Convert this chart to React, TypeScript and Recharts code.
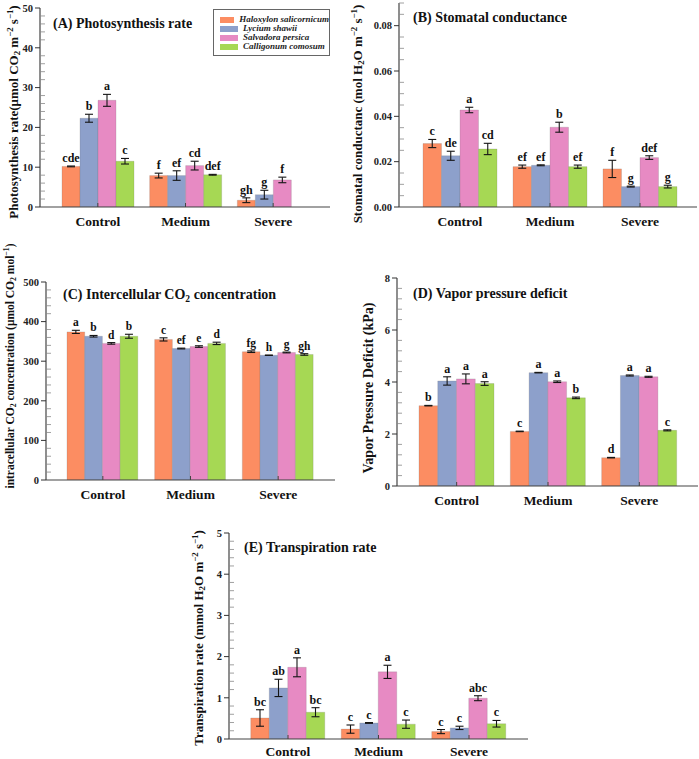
import React from 'react';
import {
  BarChart,
  Bar,
  XAxis,
  YAxis,
  ErrorBar,
  LabelList,
  Legend,
  Customized,
} from 'recharts';

const SERIF = '"Liberation Serif", "Times New Roman", Times, serif';

// Treatments on the x axis and the four species drawn in every panel
const categories = ['Control', 'Medium', 'Severe'];
const species = ['Haloxylon salicornicum', 'Lycium shawii', 'Salvadora persica', 'Calligonum comosum'];
const speciesColors = ['#FC8D62', '#8DA0CB', '#E78AC3', '#A6D854'];

// (A) Photosynthesis rate — rows: treatment, columns: species
const photoMean = [
  [10.2, 22.3, 26.8, 11.5],
  [7.9, 7.9, 10.4, 8.1],
  [1.7, 3.1, 6.8, 0],
];
const photoErr = [
  [0.1, 1.0, 1.5, 0.7],
  [0.6, 1.2, 1.1, 0.1],
  [0.6, 1.1, 0.7, 0],
];
const photoLetters = [
  ['cde', 'b', 'a', 'c'],
  ['f', 'ef', 'cd', 'def'],
  ['gh', 'g', 'f', 'h'],
];
const photoTicks = [0, 10, 20, 30, 40, 50];

// (B) Stomatal conductance
const condMean = [
  [0.028, 0.0226, 0.0428, 0.0256],
  [0.0178, 0.0184, 0.0352, 0.0178],
  [0.0168, 0.009, 0.0218, 0.009],
];
const condErr = [
  [0.0018, 0.002, 0.0012, 0.0025],
  [0.0007, 0.0002, 0.0022, 0.0007],
  [0.0038, 0.0002, 0.0008, 0.0006],
];
const condLetters = [
  ['c', 'de', 'a', 'cd'],
  ['ef', 'ef', 'b', 'ef'],
  ['f', 'g', 'def', 'g'],
];
const condTicks = [0, 0.02, 0.04, 0.06, 0.08];

// (C) Intercellular CO2 concentration
const ciMean = [
  [374, 363, 345, 363],
  [355, 332, 337, 345],
  [324, 315, 322, 317],
];
const ciErr = [
  [4, 2, 2, 5],
  [4, 1, 2, 3],
  [2, 0.5, 1, 2],
];
const ciLetters = [
  ['a', 'b', 'd', 'b'],
  ['c', 'ef', 'e', 'd'],
  ['fg', 'h', 'g', 'gh'],
];
const ciTicks = [0, 100, 200, 300, 400, 500];

// (D) Vapor pressure deficit
const vpdMean = [
  [3.09, 4.04, 4.12, 3.94],
  [2.1, 4.36, 4.01, 3.39],
  [1.09, 4.25, 4.2, 2.14],
];
const vpdErr = [
  [0.01, 0.16, 0.19, 0.07],
  [0.01, 0.01, 0.03, 0.03],
  [0.01, 0.02, 0.02, 0.02],
];
const vpdLetters = [
  ['b', 'a', 'a', 'a'],
  ['c', 'a', 'a', 'b'],
  ['d', 'a', 'a', 'c'],
];
const vpdTicks = [0, 2, 4, 6, 8];

// (E) Transpiration rate
const transMean = [
  [0.51, 1.24, 1.74, 0.65],
  [0.24, 0.39, 1.63, 0.36],
  [0.18, 0.27, 0.99, 0.37],
];
const transErr = [
  [0.2, 0.21, 0.23, 0.11],
  [0.1, 0.01, 0.16, 0.1],
  [0.05, 0.04, 0.06, 0.08],
];
const transLetters = [
  ['bc', 'ab', 'a', 'bc'],
  ['c', 'c', 'a', 'c'],
  ['c', 'c', 'abc', 'c'],
];
const transTicks = [0, 1, 2, 3, 4, 5];

type Part = [string, '' | 'sub' | 'sup'];

function buildRows(means: number[][], errs: number[][], letters: string[][]) {
  return categories.map((name, ci) => {
    const row: Record<string, any> = { name };
    species.forEach((_, si) => {
      row[`v${si}`] = means[ci][si];
      row[`e${si}`] = errs[ci][si];
      row[`m${si}`] = { t: letters[ci][si], v: means[ci][si], e: errs[ci][si] };
    });
    return row;
  });
}

// axis positions every `step` from 0 to max (minor + major marks)
function tickPositions(max: number, step: number) {
  const out: number[] = [];
  const n = Math.round(max / step);
  for (let i = 0; i <= n; i++) out.push(Math.round(i * step * 1e6) / 1e6);
  return out;
}

function Rich({ parts, size, x, y, rotate, anchor = 'start' }: { parts: Part[]; size: number; x: number; y: number; rotate?: boolean; anchor?: string }) {
  let shift = 0;
  return (
    <text
      x={x}
      y={y}
      textAnchor={anchor}
      fontFamily={SERIF}
      fontWeight="bold"
      fontSize={size}
      fill="#111"
      transform={rotate ? `rotate(-90 ${x} ${y})` : undefined}
    >
      {parts.map(([t, k], i) => {
        const target = k === 'sub' ? size * 0.22 : k === 'sup' ? -size * 0.38 : 0;
        const dy = target - shift;
        shift = target;
        return (
          <tspan key={i} dy={dy} fontSize={k ? size * 0.68 : size}>
            {t}
          </tspan>
        );
      })}
    </text>
  );
}

const makeYTick = (majors: number[], fmt: (v: number) => string) => (props: any) => {
  const { x, y, payload } = props;
  const val = payload.value;
  const isMajor = majors.some((m) => Math.abs(m - val) < 1e-9);
  if (isMajor) {
    return (
      <g>
        <line x1={x - 5} x2={x} y1={y} y2={y} stroke="#333" strokeWidth={1} />
        <text x={x - 7} y={y + 3.8} textAnchor="end" fontFamily={SERIF} fontWeight="bold" fontSize={10.5} fill="#222">
          {fmt(val)}
        </text>
      </g>
    );
  }
  return <line x1={x} x2={x + 5} y1={y} y2={y} stroke="#888" strokeWidth={0.8} />;
};

const makeXTick = (dy: number) => (props: any) => {
  const { x, y, payload } = props;
  return (
    <g>
      <line x1={x} x2={x} y1={y} y2={y - 4} stroke="#444" strokeWidth={1} />
      <text x={x} y={y + dy} textAnchor="middle" fontFamily={SERIF} fontWeight="bold" fontSize={13.5} fill="#111">
        {payload.value}
      </text>
    </g>
  );
};

const makeLetter = (rows: Record<string, any>[], si: number, size: number) => (props: any) => {
  const vb = props.viewBox && props.viewBox.x != null ? props.viewBox : props;
  const { x, y, width, height } = vb;
  if (x == null || y == null) return null;
  let info = props.value;
  if (!info || typeof info !== 'object') {
    const row = rows[props.index];
    if (!row) return null;
    info = row[`m${si}`];
  }
  const h = Math.abs(height || 0);
  const pxPerUnit = info.v > 0 ? h / info.v : 0;
  const top = Math.min(y, y + (height || 0)) - info.e * pxPerUnit;
  return (
    <text
      x={x + width / 2}
      y={top - 4}
      textAnchor="middle"
      fontFamily={SERIF}
      fontWeight="bold"
      fontSize={size}
      fill="#111"
    >
      {info.t}
    </text>
  );
};

const LegendBox = (props: any) => {
  const payload = [...(props.payload || [])].sort(
    (a: any, b: any) => species.indexOf(a.value) - species.indexOf(b.value)
  );
  return (
    <div
      style={{
        boxSizing: 'border-box',
        width: 117,
        height: 47,
        border: '1px solid #666',
        background: '#fff',
        padding: '5px 0 0 6px',
        fontFamily: SERIF,
      }}
    >
      {payload.map((p: any) => (
        <div key={p.value} style={{ display: 'flex', alignItems: 'center', height: 9 }}>
          <span style={{ display: 'inline-block', width: 18, height: 6, background: p.color, marginRight: 5 }} />
          <span
            style={{
              fontSize: 9,
              fontStyle: 'italic',
              fontWeight: 'bold',
              lineHeight: '9px',
              whiteSpace: 'nowrap',
              color: '#222',
            }}
          >
            {p.value}
          </span>
        </div>
      ))}
    </div>
  );
};

type PanelProps = {
  left: number;
  top: number;
  width: number;
  height: number;
  plot: { l: number; t: number; r: number; b: number };
  pad: [number, number];
  barSize: number;
  rows: Record<string, any>[];
  max: number;
  step: number;
  majors: number[];
  fmt: (v: number) => string;
  title: Part[];
  titlePos: [number, number];
  ylabel: Part[];
  ylabelPos: [number, number];
  ylabelSize: number;
  letterSize: number;
  xLabelDy?: number;
  legend?: boolean;
};

// titlePos / ylabelPos are page coordinates; converted to the panel's own svg space
function Panel(p: PanelProps) {
  const ticks = tickPositions(p.max, p.step);
  const marginTop = p.plot.t - p.top;
  const marginRight = p.left + p.width - p.plot.r;
  const yWidth = p.plot.l - p.left;
  const xHeight = p.top + p.height - p.plot.b;
  const tx = p.titlePos[0] - p.left;
  const ty = p.titlePos[1] - p.top;
  const lx = p.ylabelPos[0] - p.left;
  const ly = p.ylabelPos[1] - p.top;
  const XTick = makeXTick(p.xLabelDy ?? 19);
  return (
    <div style={{ position: 'absolute', left: p.left, top: p.top, width: p.width, height: p.height }}>
      <BarChart
        width={p.width}
        height={p.height}
        data={p.rows}
        margin={{ top: marginTop, right: marginRight, bottom: 0, left: 0 }}
        barGap={0}
        barSize={p.barSize}
      >
        <XAxis
          dataKey="name"
          interval={0}
          height={xHeight}
          tickSize={0}
          tickMargin={0}
          tickLine={false}
          padding={{ left: p.pad[0], right: p.pad[1] }}
          axisLine={{ stroke: '#444', strokeWidth: 1.2 }}
          tick={XTick}
        />
        <XAxis
          xAxisId="frame"
          orientation="top"
          dataKey="name"
          height={0}
          tick={false}
          tickLine={false}
          axisLine={{ stroke: '#9a9a9a', strokeWidth: 1.2 }}
        />
        <YAxis
          type="number"
          domain={[0, p.max]}
          ticks={ticks}
          interval={0}
          width={yWidth}
          tickSize={0}
          tickMargin={0}
          tickLine={false}
          allowDataOverflow
          axisLine={{ stroke: '#444', strokeWidth: 1.2 }}
          tick={makeYTick(p.majors, p.fmt)}
        />
        <YAxis
          yAxisId="frame"
          orientation="right"
          type="number"
          domain={[0, p.max]}
          width={0}
          tick={false}
          tickLine={false}
          axisLine={{ stroke: '#9a9a9a', strokeWidth: 1.2 }}
        />
        {species.map((name, si) => (
          <Bar
            key={name}
            dataKey={`v${si}`}
            name={name}
            fill={speciesColors[si]}
            stroke="rgba(110,110,110,0.35)"
            strokeWidth={0.6}
            isAnimationActive={false}
          >
            <ErrorBar dataKey={`e${si}`} width={4} stroke="#151515" strokeWidth={1.1} isAnimationActive={false} />
            <LabelList dataKey={`m${si}`} content={makeLetter(p.rows, si, p.letterSize)} />
          </Bar>
        ))}
        {p.legend && (
          <Legend
            layout="vertical"
            align="center"
            verticalAlign="middle"
            wrapperStyle={{ left: 213, top: 9, width: 117, height: 47 }}
            content={<LegendBox />}
          />
        )}
        <Customized
          component={() => (
            <g>
              <Rich parts={p.title} size={14} x={tx} y={ty} />
              <Rich parts={p.ylabel} size={p.ylabelSize} x={lx} y={ly} rotate anchor="middle" />
            </g>
          )}
        />
      </BarChart>
    </div>
  );
}

const photoRows = buildRows(photoMean, photoErr, photoLetters);
const condRows = buildRows(condMean, condErr, condLetters);
const ciRows = buildRows(ciMean, ciErr, ciLetters);
const vpdRows = buildRows(vpdMean, vpdErr, vpdLetters);
const transRows = buildRows(transMean, transErr, transLetters);

export default function App() {
  return (
    <div style={{ position: 'absolute', left: 0, top: 0, width: 699, height: 759, background: '#fff', overflow: 'hidden' }}>
      <Panel
        left={0}
        top={0}
        width={340}
        height={232}
        plot={{ l: 40, t: 8, r: 330, b: 207 }}
        pad={[14, 13]}
        barSize={18}
        rows={photoRows}
        max={50}
        step={2}
        majors={photoTicks}
        fmt={(v) => String(v)}
        title={[['(A) Photosynthesis rate', '']]}
        titlePos={[53, 28]}
        ylabel={[
          ['Photosynthesis rate(μmol CO', ''],
          ['2', 'sub'],
          [' m', ''],
          ['−2', 'sup'],
          [' s', ''],
          ['−1', 'sup'],
          [')', ''],
        ]}
        ylabelPos={[17.5, 112]}
        ylabelSize={13}
        letterSize={12}
        legend
      />
      <Panel
        left={350}
        top={0}
        width={349}
        height={232}
        plot={{ l: 399, t: 3, r: 697, b: 207 }}
        pad={[16, 12]}
        barSize={18.5}
        rows={condRows}
        max={0.09}
        step={0.005}
        majors={condTicks}
        fmt={(v) => v.toFixed(2)}
        title={[['(B) Stomatal conductance', '']]}
        titlePos={[413, 22]}
        ylabel={[
          ['Stomatal conductanc (mol H', ''],
          ['2', 'sub'],
          ['O m', ''],
          ['−2', 'sup'],
          [' s', ''],
          ['−1', 'sup'],
          [')', ''],
        ]}
        ylabelPos={[361.5, 114]}
        ylabelSize={13}
        letterSize={12}
      />
      <Panel
        left={0}
        top={236}
        width={345}
        height={284}
        plot={{ l: 46, t: 282, r: 335, b: 480 }}
        pad={[13, 13]}
        barSize={17.7}
        rows={ciRows}
        max={500}
        step={20}
        majors={ciTicks}
        fmt={(v) => String(v)}
        title={[
          ['(C) Intercellular CO', ''],
          ['2', 'sub'],
          [' concentration', ''],
        ]}
        titlePos={[63, 299]}
        ylabel={[
          ['intracellular CO', ''],
          ['2', 'sub'],
          [' concentration (μmol CO', ''],
          ['2', 'sub'],
          [' mol', ''],
          ['−1', 'sup'],
          [')', ''],
        ]}
        ylabelPos={[13.5, 366]}
        ylabelSize={11.5}
        letterSize={11.5}
      />
      <Panel
        left={350}
        top={250}
        width={349}
        height={270}
        plot={{ l: 397, t: 278, r: 698, b: 486 }}
        pad={[14, 13]}
        barSize={18.75}
        rows={vpdRows}
        max={8}
        step={0.4}
        majors={vpdTicks}
        fmt={(v) => String(v)}
        title={[['(D) Vapor pressure deficit', '']]}
        titlePos={[413, 298]}
        ylabel={[['Vapor Pressure Deficit (kPa)', '']]}
        ylabelPos={[373, 388]}
        ylabelSize={14}
        letterSize={12}
      />
      <Panel
        left={170}
        top={510}
        width={365}
        height={249}
        plot={{ l: 229, t: 533, r: 528, b: 739 }}
        pad={[13.75, 13.75]}
        barSize={18.5}
        rows={transRows}
        max={5}
        step={0.2}
        majors={transTicks}
        fmt={(v) => String(v)}
        title={[['(E) Transpiration rate', '']]}
        titlePos={[244, 552]}
        ylabel={[
          ['Transpiration rate (mmol H', ''],
          ['2', 'sub'],
          ['O m', ''],
          ['−2', 'sup'],
          [' s', ''],
          ['−1', 'sup'],
          [')', ''],
        ]}
        ylabelPos={[202.5, 638]}
        ylabelSize={13}
        letterSize={12}
        xLabelDy={17}
      />
    </div>
  );
}
